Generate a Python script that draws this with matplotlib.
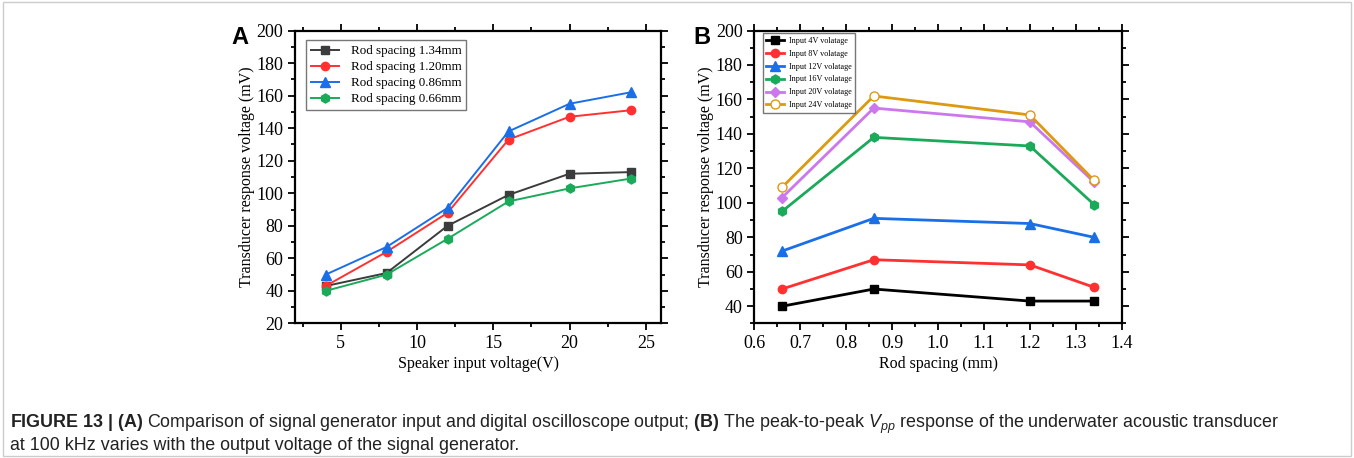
import matplotlib
matplotlib.use("Agg")
import matplotlib.pyplot as plt
from matplotlib.ticker import MultipleLocator, AutoMinorLocator
from matplotlib.patches import Rectangle

# panel A: response vs speaker input voltage
input_voltage = [4, 8, 12, 16, 20, 24]
spacing_labels = ["Rod spacing 1.34mm", "Rod spacing 1.20mm",
                  "Rod spacing 0.86mm", "Rod spacing 0.66mm"]
resp_134 = [43, 51, 80, 99, 112, 113]
resp_120 = [43, 64, 88, 133, 147, 151]
resp_086 = [50, 67, 91, 138, 155, 162]
resp_066 = [40, 50, 72, 95, 103, 109]

# panel B: response vs rod spacing
rod_spacing = [0.66, 0.86, 1.20, 1.34]
volt_labels = ["Input 4V volatage", "Input 8V volatage", "Input 12V volatage",
               "Input 16V volatage", "Input 20V volatage", "Input 24V volatage"]
v4 = [40, 50, 43, 43]
v8 = [50, 67, 64, 51]
v12 = [72, 91, 88, 80]
v16 = [95, 138, 133, 99]
v20 = [103, 155, 147, 112]
v24 = [109, 162, 151, 113]

plt.rcParams['font.family'] = ['Liberation Serif', 'DejaVu Serif']
plt.rcParams['mathtext.fontset'] = 'custom'
plt.rcParams['mathtext.rm'] = 'Liberation Sans'
plt.rcParams['mathtext.bf'] = 'Liberation Sans:bold'
plt.rcParams['mathtext.it'] = 'Liberation Sans:italic'

fig = plt.figure(figsize=(13.54, 4.58), dpi=100)


def style_axes(ax):
    for s in ax.spines.values():
        s.set_linewidth(1.6)
    ax.tick_params(which='both', direction='out', top=True, right=True,
                   width=1.3, labelsize=13)
    ax.tick_params(which='major', length=5)
    ax.tick_params(which='minor', length=3)
    ax.xaxis.set_minor_locator(AutoMinorLocator(2))
    ax.yaxis.set_minor_locator(AutoMinorLocator(2))


axA = fig.add_axes([0.2179, 0.2937, 0.2703, 0.6397])
axA.plot(input_voltage, resp_134, color='#3c3c3c', marker='s', ms=5.5, lw=1.4, label=spacing_labels[0])
axA.plot(input_voltage, resp_120, color='#ff3030', marker='o', ms=6, lw=1.4, label=spacing_labels[1])
axA.plot(input_voltage, resp_086, color='#1a6fe8', marker='^', ms=6.5, lw=1.4, label=spacing_labels[2])
axA.plot(input_voltage, resp_066, color='#1aaa5a', marker='h', ms=6.5, lw=1.4, label=spacing_labels[3])
axA.set_xlim(2, 26)
axA.set_ylim(20, 200)
axA.xaxis.set_major_locator(MultipleLocator(5))
axA.yaxis.set_major_locator(MultipleLocator(20))
style_axes(axA)
axA.set_xlabel('Speaker input voltage(V)', fontsize=11.5, labelpad=3)
axA.set_ylabel('Transducer response voltage (mV)', fontsize=11.5, labelpad=1)
legA = axA.legend(loc='upper left', bbox_to_anchor=(0.030, 0.966), fontsize=9.4,
                  frameon=True, fancybox=False, edgecolor='#555555', borderaxespad=0,
                  handlelength=2.2, handletextpad=0.9, labelspacing=0.3, borderpad=0.35)
legA.get_frame().set_linewidth(1.0)

axB = fig.add_axes([0.5572, 0.2937, 0.2712, 0.6397])
axB.plot(rod_spacing, v4, color='black', marker='s', ms=5.5, lw=2, label=volt_labels[0])
axB.plot(rod_spacing, v8, color='#ff3030', marker='o', ms=6, lw=2, label=volt_labels[1])
axB.plot(rod_spacing, v12, color='#1a6fe8', marker='^', ms=6.5, lw=2, label=volt_labels[2])
axB.plot(rod_spacing, v16, color='#1aaa5a', marker='h', ms=6.5, lw=2, label=volt_labels[3])
axB.plot(rod_spacing, v20, color='#cc77ee', marker='D', ms=5.5, lw=2, label=volt_labels[4])
axB.plot(rod_spacing, v24, color='#dd9a10', marker='o', ms=6.5, lw=2,
         mfc='white', label=volt_labels[5])
axB.set_xlim(0.6, 1.4)
axB.set_ylim(30, 200)
axB.xaxis.set_major_locator(MultipleLocator(0.1))
axB.yaxis.set_major_locator(MultipleLocator(20))
style_axes(axB)
axB.set_xlabel('Rod spacing (mm)', fontsize=11.5, labelpad=3)
axB.set_ylabel('Transducer response voltage (mV)', fontsize=11.5, labelpad=1)
legB = axB.legend(loc='upper left', bbox_to_anchor=(0.022, 0.99), fontsize=5.9,
                  frameon=True, fancybox=False, edgecolor='#555555', borderaxespad=0,
                  handlelength=2.2, handletextpad=0.6, labelspacing=0.6, borderpad=0.4)
legB.get_frame().set_linewidth(1.0)

fig.text(0.171, 0.905, 'A', fontsize=17, fontweight='bold', family='Liberation Sans')
fig.text(0.512, 0.905, 'B', fontsize=17, fontweight='bold', family='Liberation Sans')

cap1 = (r"$\mathbf{FIGURE\ 13\ |\ (A)}$ Comparison of signal generator input and digital "
        r"oscilloscope output; $\mathbf{(B)}$ The peak-to-peak $V_{pp}$ response of the "
        r"underwater acoustic transducer")
cap2 = "at 100 kHz varies with the output voltage of the signal generator."
fig.text(0.0075, 0.066, cap1, fontsize=12.9, family='Liberation Sans',
         color='#222222', va='baseline')
fig.text(0.0075, 0.018, cap2, fontsize=12.9, family='Liberation Sans',
         color='#222222', va='baseline')

fig.patches.append(Rectangle((0.002, 0.004), 0.996, 0.992, transform=fig.transFigure,
                             fill=False, edgecolor='#cccccc', linewidth=1))

fig.savefig('out.png', dpi=100)
